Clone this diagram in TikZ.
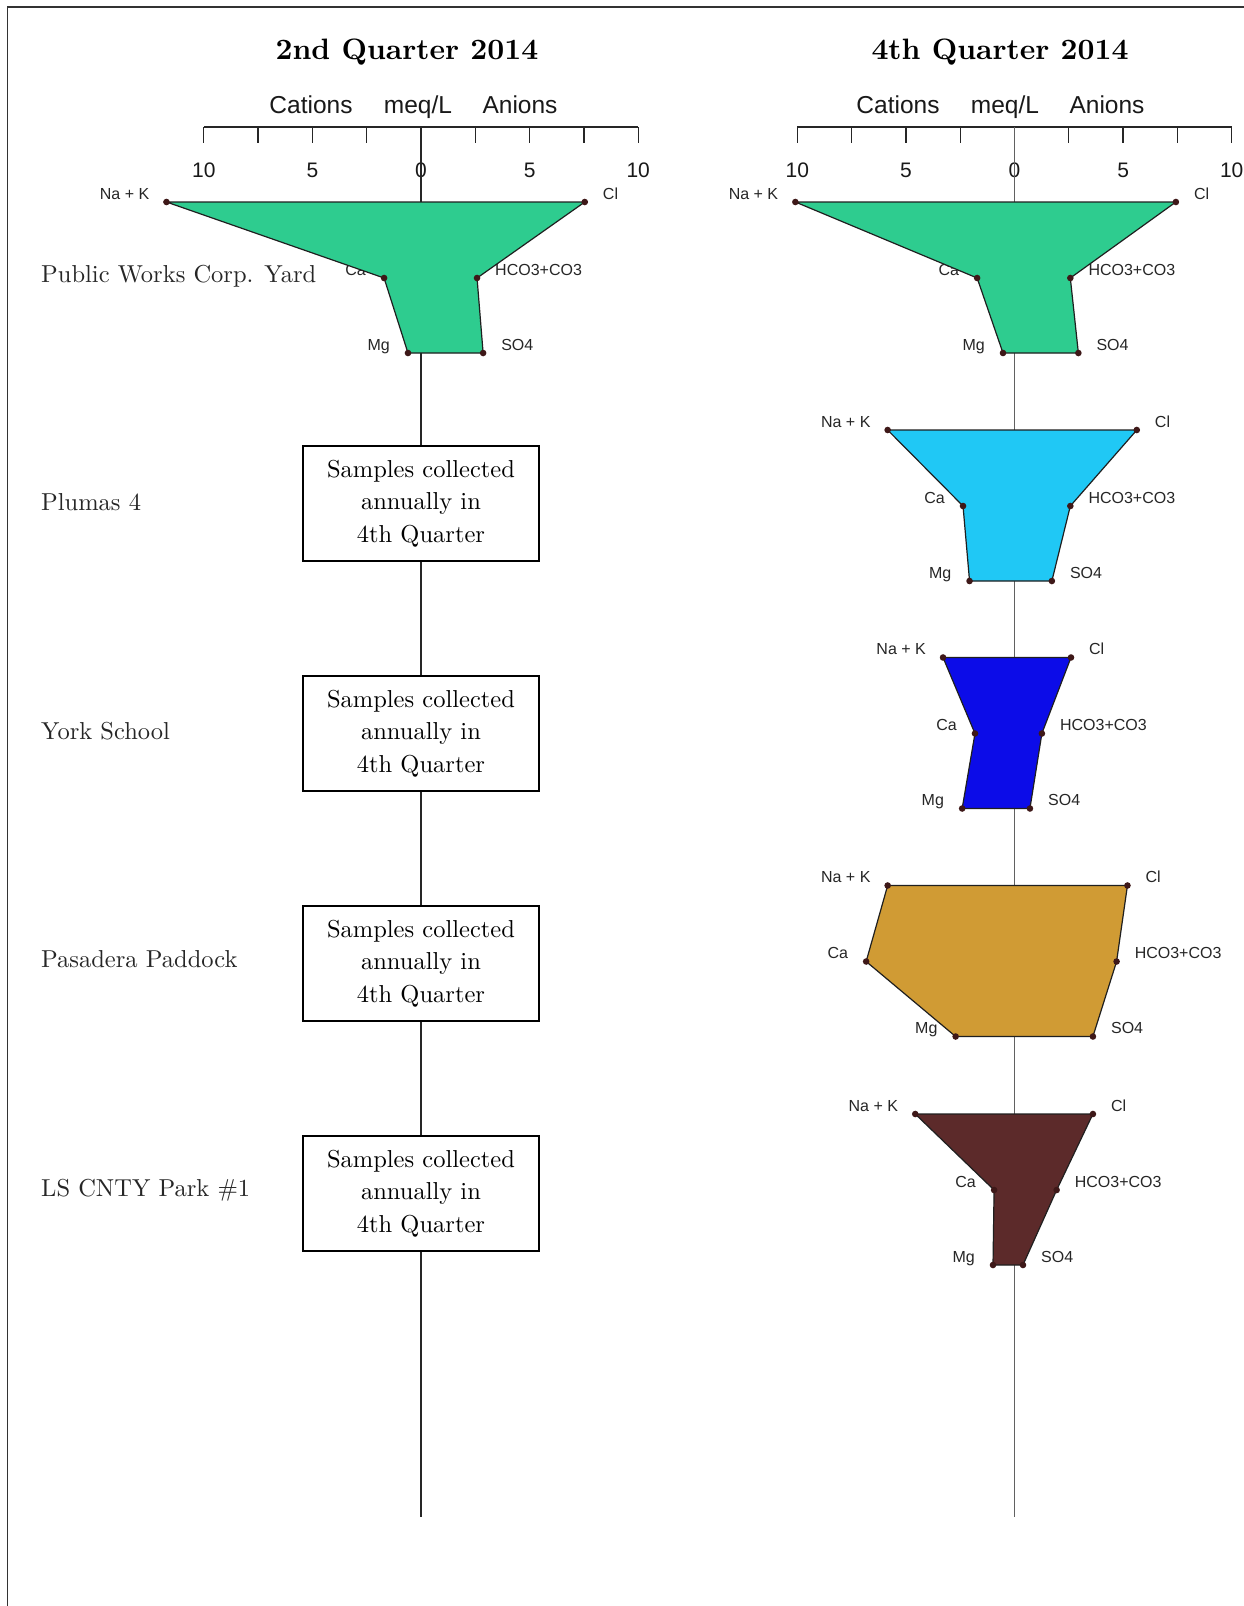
\documentclass[tikz,border=0pt]{standalone}
\usepackage{fontspec}
\setmainfont{lmroman10}[Extension=.otf, UprightFont=*-regular,
  BoldFont=*-bold, ItalicFont=*-italic, BoldItalicFont=*-bolditalic]
\newfontfamily\arialf{Liberation Sans}
\usetikzlibrary{calc}

\definecolor{fgreen}{RGB}{46,204,143}
\definecolor{fcyan}{RGB}{32,200,245}
\definecolor{fblue}{RGB}{12,12,232}
\definecolor{fgold}{RGB}{208,155,52}
\definecolor{fbrown}{RGB}{92,42,42}
\definecolor{dotred}{RGB}{62,24,24}

% pixels per meq/L on the horizontal scale
\newcommand\meqpx{21.72}

% Stiff polygon: #1 name prefix, #2 fill colour,
% #3 Na+K, #4 Ca, #5 Mg (cations, negative to the left),
% #6 Cl, #7 HCO3+CO3, #8 SO4 (anions, to the right); values in meq/L
\newcommand\stiff[8]{%
  \coordinate (#1-nak) at ({#3*\meqpx},0);
  \coordinate (#1-ca)  at ({#4*\meqpx},76);
  \coordinate (#1-mg)  at ({#5*\meqpx},151);
  \coordinate (#1-cl)  at ({#6*\meqpx},0);
  \coordinate (#1-hco) at ({#7*\meqpx},76);
  \coordinate (#1-so)  at ({#8*\meqpx},151);
  \node[ionl] (#1-tnak) at ($(#1-nak)+(-17,-3)$) {Na + K};
  \node[ionl] (#1-tca)  at ($(#1-ca)+(-18,-3)$)  {Ca};
  \node[ionl] (#1-tmg)  at ($(#1-mg)+(-18,-3)$)  {Mg};
  \node[ionr] (#1-tcl)  at ($(#1-cl)+(18,-3)$)   {Cl};
  \node[ionr] (#1-thco) at ($(#1-hco)+(18,-3)$)  {HCO3+CO3};
  \node[ionr] (#1-tso)  at ($(#1-so)+(18,-3)$)   {SO4};
  \draw[poly, fill=#2] (#1-nak) -- (#1-cl) -- (#1-hco) -- (#1-so)
        -- (#1-mg) -- (#1-ca) -- cycle;
  \foreach \p in {nak,ca,mg,cl,hco,so}
    \fill[dotred] (#1-\p) circle[radius=3.3];
}

% meq/L scale with ticks every 2.5 and labels every 5
\newcommand\meqaxis[2]{% #1 prefix, #2 centre x
  \coordinate (#1-a0) at ({#2-10*\meqpx},127);
  \coordinate (#1-a1) at ({#2+10*\meqpx},127);
  \draw[axisln] (#1-a0) -- (#1-a1);
  \foreach \i in {-4,...,4}
    \draw[axisln] ({#2+\i*2.5*\meqpx},127) -- ++(0,16);
  \foreach \i/\t in {-4/10,-2/5,0/0,2/5,4/10}
    \node[ticklab] (#1-l\i) at ({#2+\i*2.5*\meqpx},177) {\t};
}

\begin{document}
\begin{tikzpicture}[x=1pt,y=-1pt,
  frame/.style={draw=black!80, line width=1.6},
  axisln/.style={draw=black!85, line width=1.3},
  stemL/.style={draw=black!85, line width=1.4},
  stemR/.style={draw=black!62, line width=1.6},
  poly/.style={draw=black!88, line width=1.2, line join=round},
  ionl/.style={font=\arialf\fontsize{16}{18}\selectfont, text=black!85,
               inner sep=0pt, anchor=base east},
  ionr/.style={font=\arialf\fontsize{16}{18}\selectfont, text=black!85,
               inner sep=0pt, anchor=base west},
  title/.style={font=\fontsize{29.5}{34}\selectfont\bfseries, inner sep=0pt,
                anchor=base},
  head/.style={font=\arialf\fontsize{24.5}{28}\selectfont, inner sep=0pt,
               anchor=base, text=black!90},
  ticklab/.style={font=\arialf\fontsize{21}{24}\selectfont, inner sep=0pt,
                  anchor=base, text=black!90},
  site/.style={font=\fontsize{24.5}{28}\selectfont, text=black!85,
               inner sep=0pt, anchor=base west},
  notebox/.style={draw=black, line width=1.5, fill=white,
                  minimum width=236, minimum height=115, inner sep=0pt,
                  align=center, font=\fontsize{24.5}{32.5}\selectfont}]

\useasboundingbox (0,0) rectangle (1244,1606);
\fill[white] (0,0) rectangle (1244,1606);

% page frame (top and left edges)
\coordinate (fr-tr) at (1244,7);
\coordinate (fr-tl) at (7.5,7);
\coordinate (fr-bl) at (7.5,1606);
\draw[frame] (fr-tr) -- (fr-tl) -- (fr-bl);

% ---------- left panel: 2nd Quarter 2014 ----------
\node[title] (tL) at (407,59) {2nd Quarter 2014};
\node[head] (cL) at (311,113) {Cations};
\node[head] (mL) at (418,113) {meq/L};
\node[head] (aL) at (520,113) {Anions};

\meqaxis{L}{421}
\coordinate (L-top) at (421,127);
\coordinate (L-bot) at (421,1517);
\draw[stemL] (L-top) -- (L-bot);

\begin{scope}[shift={(421,202)}]
  \stiff{pL}{fgreen}{-11.72}{-1.70}{-0.60}{7.54}{2.58}{2.86}
\end{scope}

\foreach \k/\nm in {0/nPl,1/nYo,2/nPa,3/nLS}
  \node[notebox] (\nm) at (421,{503.5+230*\k})
    {Samples collected\\annually in\\4th Quarter};

\node[site] (sPW) at (41,282)   {Public Works Corp. Yard};
\node[site] (sPl) at (41,510.5) {Plumas 4};
\node[site] (sYo) at (41,739)   {York School};
\node[site] (sPa) at (41,967.5) {Pasadera Paddock};
\node[site] (sLS) at (41,1196)  {LS CNTY Park \#1};

% ---------- right panel: 4th Quarter 2014 ----------
\node[title] (tR) at (1000,59) {4th Quarter 2014};
\node[head] (cR) at (898,113)  {Cations};
\node[head] (mR) at (1005,113) {meq/L};
\node[head] (aR) at (1107,113) {Anions};

\meqaxis{R}{1014.5}
\coordinate (R-top) at (1014.5,127);
\coordinate (R-bot) at (1014.5,1517);
\draw[stemR] (R-top) -- (R-bot);

\begin{scope}[shift={(1014.5,202)}]
  \stiff{p1}{fgreen}{-10.09}{-1.72}{-0.53}{7.43}{2.57}{2.94}
\end{scope}
\begin{scope}[shift={(1014.5,430)}]
  \stiff{p2}{fcyan}{-5.84}{-2.37}{-2.07}{5.63}{2.57}{1.72}
\end{scope}
\begin{scope}[shift={(1014.5,657.5)}]
  \stiff{p3}{fblue}{-3.29}{-1.82}{-2.41}{2.60}{1.26}{0.71}
\end{scope}
\begin{scope}[shift={(1014.5,885.5)}]
  \stiff{p4}{fgold}{-5.84}{-6.83}{-2.71}{5.20}{4.70}{3.61}
\end{scope}
\begin{scope}[shift={(1014.5,1114)}]
  \stiff{p5}{fbrown}{-4.57}{-0.94}{-0.99}{3.61}{1.94}{0.39}
\end{scope}

\end{tikzpicture}
\end{document}
